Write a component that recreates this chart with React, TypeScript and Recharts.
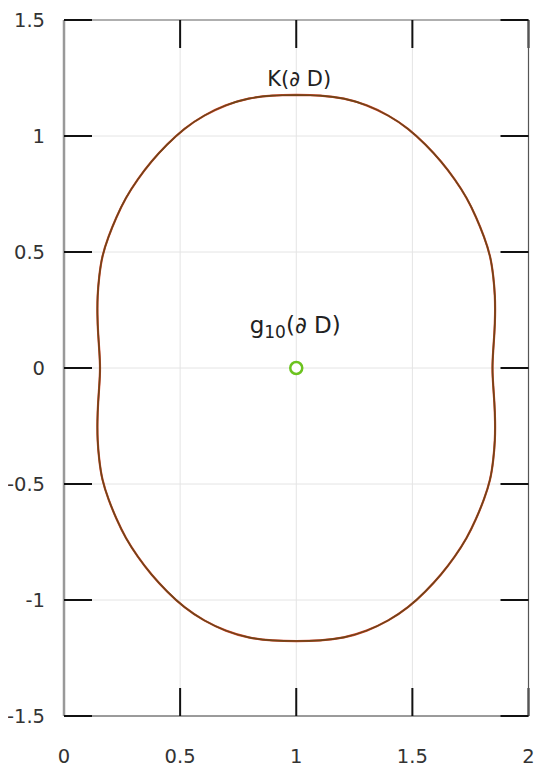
import React from 'react';
import { ComposedChart, Line, XAxis, YAxis, CartesianGrid, Scatter, ReferenceDot } from 'recharts';

const xTicks = [0, 0.5, 1, 1.5, 2];
const yTicks = [-1.5, -1, -0.5, 0, 0.5, 1, 1.5];

// closed curve K(∂D): upper-left, lower-left, lower-right, upper-right
const curveX = [
  1.0, 0.897, 0.795, 0.697, 0.604, 0.519, 0.444, 0.377, 0.318, 0.267, 0.226, 0.192, 0.166, 0.152, 0.145, 0.144, 0.147, 0.152, 0.155,
  0.152, 0.147, 0.144, 0.145, 0.152, 0.166, 0.192, 0.226, 0.267, 0.318, 0.377, 0.444, 0.519, 0.604, 0.697, 0.795, 0.897, 1.0,
  1.103, 1.205, 1.303, 1.396, 1.481, 1.556, 1.623, 1.682, 1.733, 1.774, 1.808, 1.834, 1.848, 1.855, 1.856, 1.853, 1.848, 1.845,
  1.848, 1.853, 1.856, 1.855, 1.848, 1.834, 1.808, 1.774, 1.733, 1.682, 1.623, 1.556, 1.481, 1.396, 1.303, 1.205, 1.103, 1.0,
];
const curveY = [
  1.177, 1.174, 1.161, 1.132, 1.088, 1.031, 0.963, 0.89, 0.813, 0.733, 0.65, 0.566, 0.482, 0.396, 0.311, 0.229, 0.15, 0.074, 0.0,
  -0.074, -0.15, -0.229, -0.311, -0.396, -0.482, -0.566, -0.65, -0.733, -0.813, -0.89, -0.963, -1.031, -1.088, -1.132, -1.161, -1.174, -1.177,
  -1.174, -1.161, -1.132, -1.088, -1.031, -0.963, -0.89, -0.813, -0.733, -0.65, -0.566, -0.482, -0.396, -0.311, -0.229, -0.15, -0.074, 0.0,
  0.074, 0.15, 0.229, 0.311, 0.396, 0.482, 0.566, 0.65, 0.733, 0.813, 0.89, 0.963, 1.031, 1.088, 1.132, 1.161, 1.174, 1.177,
];

const centerPoint = { x: 1, y: 0 };
const labelK = [{ x: 1, y: 1.216 }];
const labelG = [{ x: 1, y: 0.151 }];

const curveData = curveX.map((x, i) => ({ x, y: curveY[i] }));

const FONT = "'DejaVu Sans', 'Liberation Sans', Arial, sans-serif";
const tickStyle = { fill: '#333', fontSize: 19.5, fontFamily: FONT };
const tickLineStyle = { stroke: '#111', strokeWidth: 2 };

const KLabel = (p: any) => (
  <text x={p.cx + 3} y={p.cy} textAnchor="middle" fontFamily={FONT} fontSize={21} fill="#222">
    K(∂ D)
  </text>
);

const GLabel = (p: any) => (
  <text x={p.cx - 1} y={p.cy} textAnchor="middle" fontFamily={FONT} fontSize={23} fill="#222">
    <tspan>g</tspan>
    <tspan fontSize={17} dy={5}>10</tspan>
    <tspan dy={-5}>(∂ D)</tspan>
  </text>
);

export default function App() {
  return (
    <ComposedChart
      width={534}
      height={773}
      data={curveData}
      margin={{ top: 11, right: 12.5, bottom: 15, left: 0 }}
    >
      <CartesianGrid stroke="#e4e4e4" strokeWidth={1} />
      <XAxis
        type="number"
        dataKey="x"
        domain={[0, 2]}
        ticks={xTicks}
        interval={0}
        allowDataOverflow
        height={50}
        tickSize={-28}
        tickMargin={61}
        tickLine={tickLineStyle}
        axisLine={{ stroke: '#444', strokeWidth: 1.2 }}
        tick={tickStyle}
      />
      <XAxis
        xAxisId="top"
        orientation="top"
        type="number"
        dataKey="x"
        domain={[0, 2]}
        ticks={xTicks}
        interval={0}
        allowDataOverflow
        height={1}
        tickSize={-28}
        tickMargin={0}
        tickFormatter={() => ''}
        tickLine={tickLineStyle}
        axisLine={{ stroke: '#999', strokeWidth: 1.5 }}
      />
      <YAxis
        type="number"
        dataKey="y"
        domain={[-1.5, 1.5]}
        ticks={yTicks}
        interval={0}
        allowDataOverflow
        width={56}
        tickSize={-28}
        tickMargin={47}
        tickLine={tickLineStyle}
        axisLine={{ stroke: '#999', strokeWidth: 2.5 }}
        tick={tickStyle}
      />
      <YAxis
        yAxisId="right"
        orientation="right"
        type="number"
        dataKey="y"
        domain={[-1.5, 1.5]}
        ticks={yTicks}
        interval={0}
        allowDataOverflow
        width={1}
        tickSize={-28}
        tickMargin={0}
        tickFormatter={() => ''}
        tickLine={tickLineStyle}
        axisLine={{ stroke: '#555', strokeWidth: 1.2 }}
      />
      <Line
        type="natural"
        dataKey="y"
        stroke="#d8452e"
        strokeWidth={2.2}
        dot={false}
        activeDot={false}
        isAnimationActive={false}
      />
      <Line
        type="natural"
        dataKey="y"
        stroke="#6e4518"
        strokeWidth={1.6}
        dot={false}
        activeDot={false}
        isAnimationActive={false}
      />
      <Scatter data={labelK} shape={KLabel} isAnimationActive={false} />
      <Scatter data={labelG} shape={GLabel} isAnimationActive={false} />
      <ReferenceDot
        x={centerPoint.x}
        y={centerPoint.y}
        r={6}
        fill="#fff"
        stroke="#6cc31f"
        strokeWidth={2.5}
      />
    </ComposedChart>
  );
}
